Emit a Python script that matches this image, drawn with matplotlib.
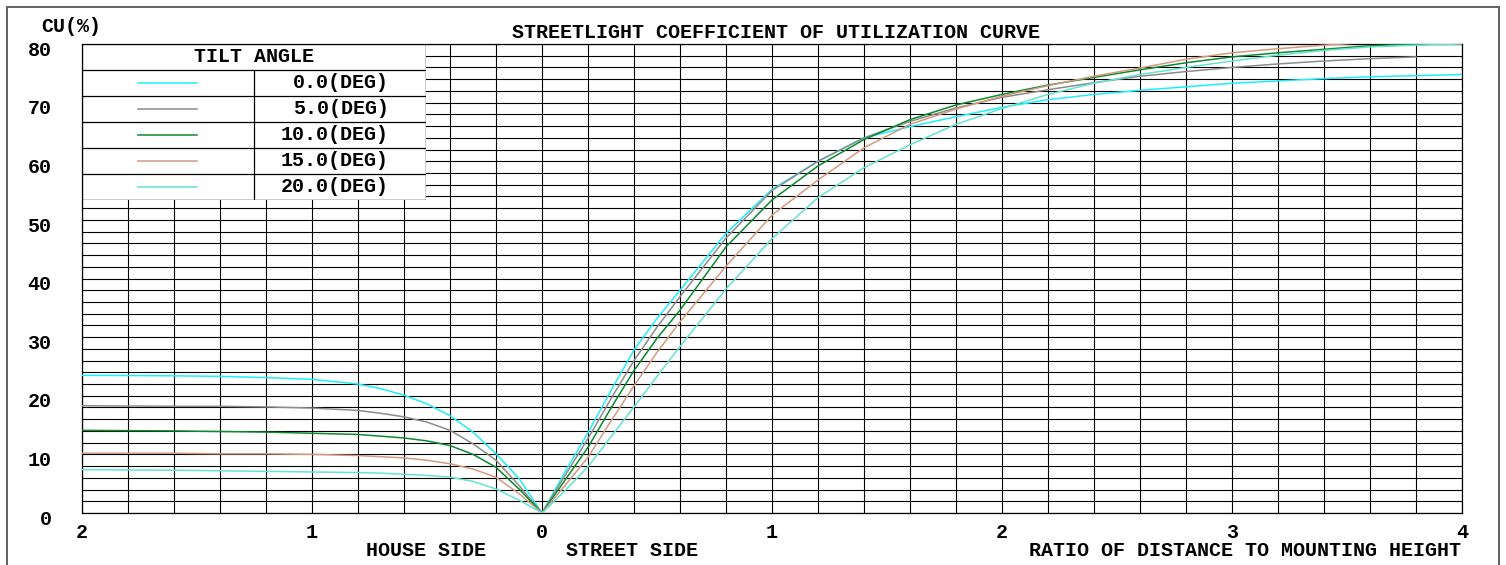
import numpy as np
import matplotlib
matplotlib.use('Agg')
import matplotlib.pyplot as plt
from matplotlib.patches import Rectangle
from matplotlib.transforms import ScaledTranslation

plt.rcParams['font.family'] = ['Liberation Mono', 'DejaVu Sans Mono']
plt.rcParams['font.weight'] = 'bold'
FS = 14.4

W, H = 1506, 565

# tilt angles and line colours
tilt_angles = [0.0, 5.0, 10.0, 15.0, 20.0]
colors = ['#1eeefc', '#8c8c8c', '#0b8a2e', '#d49a80', '#66e2d2']

# house side (distance ratio, plotted to the left of 0)
house_x = [0, 0.1, 0.2, 0.3, 0.4, 0.5, 0.6, 0.7, 0.8, 1.0, 1.2, 1.4, 1.6, 2.0]
house_0 = [0, 5.9, 10.1, 13.8, 16.6, 18.6, 20.1, 21.2, 22.0, 22.8, 23.1, 23.3, 23.4, 23.5]
house_5 = [0, 4.7, 9.0, 11.8, 14.1, 15.5, 16.4, 17.0, 17.5, 17.9, 18.1, 18.2, 18.2, 18.3]
house_10 = [0, 4.1, 7.8, 10.0, 11.5, 12.3, 12.8, 13.1, 13.4, 13.6, 13.8, 13.9, 14.0, 14.1]
house_15 = [0, 3.3, 6.1, 7.5, 8.4, 9.0, 9.4, 9.6, 9.8, 10.0, 10.1, 10.1, 10.2, 10.2]
house_20 = [0, 2.2, 4.1, 5.4, 6.1, 6.4, 6.6, 6.8, 6.9, 7.0, 7.1, 7.2, 7.3, 7.4]

# street side
street_x = [0, 0.1, 0.2, 0.3, 0.4, 0.5, 0.6, 0.8, 1.0, 1.2, 1.4, 1.6, 1.8, 2.0,
            2.2, 2.4, 2.6, 2.8, 3.0, 3.2, 3.4, 3.6, 3.8, 4.0]
street_0 = [0, 7.0, 13.7, 20.9, 27.8, 33.2, 38.0, 47.7, 55.2, 60.0, 64.0, 65.9, 67.6, 69.2,
            70.5, 71.4, 72.1, 72.7, 73.3, 73.7, 74.1, 74.4, 74.6, 74.8]
street_5 = [0, 6.4, 12.7, 19.5, 26.0, 31.7, 36.9, 46.9, 55.0, 60.0, 64.0, 66.8, 69.1, 70.9,
            72.2, 73.4, 74.5, 75.3, 76.0, 76.6, 77.1, 77.5, 77.8, np.nan]
street_10 = [0, 5.6, 11.2, 17.9, 24.3, 29.8, 34.6, 45.4, 53.4, 59.2, 63.7, 67.1, 69.6, 71.4,
             73.0, 74.3, 75.6, 76.8, 77.8, 78.5, 79.1, 79.7, 80.0, 80.2]
street_15 = [0, 4.7, 9.5, 15.7, 21.7, 27.4, 32.6, 42.1, 50.8, 56.8, 62.3, 66.3, 68.9, 71.1,
             72.9, 74.5, 75.9, 77.4, 78.5, 79.2, 79.8, 80.3, 80.6, 80.8]
street_20 = [0, 3.8, 7.9, 13.0, 18.1, 23.3, 28.4, 38.2, 46.8, 53.8, 58.9, 62.8, 66.3, 69.0,
             71.4, 73.3, 74.8, 76.0, 77.1, 78.1, 78.9, 79.5, 79.8, 80.0]

house = [house_0, house_5, house_10, house_15, house_20]
street = [street_0, street_5, street_10, street_15, street_20]

x_ticks = [-2, -1, 0, 1, 2, 3, 4]
x_ticklabels = ['2', '1', '0', '1', '2', '3', '4']
y_ticks = [0, 10, 20, 30, 40, 50, 60, 70, 80]

fig = plt.figure(figsize=(W / 100, H / 100), dpi=100)
ax = fig.add_axes([82 / W, 52 / H, 1380 / W, 469 / H])

# curves
for hs, st, c in zip(house, street, colors):
    ax.plot(-np.array(house_x), hs, color=c, lw=1.1, zorder=3)
    ax.plot(street_x, st, color=c, lw=1.1, zorder=3)

ax.set_xlim(-2, 4)
ax.set_ylim(0, 80)
ax.set_xticks(x_ticks)
ax.set_xticklabels(x_ticklabels, fontsize=FS, fontweight='bold')
ax.set_xticks(np.arange(-2, 4.01, 0.2), minor=True)
ax.set_yticks(y_ticks)
ax.set_yticklabels([str(v) for v in y_ticks], fontsize=FS, fontweight='bold')
ax.set_yticks(np.arange(0, 80.1, 2), minor=True)
ax.tick_params(which='both', length=0)
ax.tick_params(axis='x', pad=7)
ax.tick_params(axis='y', pad=22)
ax.grid(which='both', color='black', lw=0.8, zorder=1)
ax.set_axisbelow(True)
for s in ax.spines.values():
    s.set_color('black')
    s.set_linewidth(0.9)

for lbl in ax.get_yticklabels():
    lbl.set_transform(lbl.get_transform() + ScaledTranslation(0, -3 / 72, fig.dpi_scale_trans))

# texts
fig.text(776 / W, 1 - 32 / H, 'STREETLIGHT COEFFICIENT OF UTILIZATION CURVE',
         ha='center', va='center', fontsize=FS, fontweight='bold')
fig.text(71 / W, 1 - 27 / H, 'CU(%)', ha='center', va='center', fontsize=FS, fontweight='bold')
fig.text(426 / W, 1 - 550 / H, 'HOUSE SIDE', ha='center', va='center', fontsize=FS, fontweight='bold')
fig.text(566 / W, 1 - 550 / H, 'STREET SIDE', ha='left', va='center', fontsize=FS, fontweight='bold')
fig.text(1461 / W, 1 - 550 / H, 'RATIO OF DISTANCE TO MOUNTING HEIGHT',
         ha='right', va='center', fontsize=FS, fontweight='bold')

# outer frame
fig.add_artist(Rectangle((7 / W, -0.2), 1492 / W, (H - 7) / H + 0.2, transform=fig.transFigure,
                         fill=False, edgecolor='#555555', lw=1.3))

# legend table
lg = fig.add_axes([82 / W, 1 - 200 / H, 344 / W, 156 / H])
lg.set_xlim(0, 344)
lg.set_ylim(156, 0)
lg.axis('off')
lg.add_patch(Rectangle((0, 0), 344, 156, facecolor='white', edgecolor='black', lw=1.0))
lg.text(172, 13, 'TILT ANGLE', ha='center', va='center', fontsize=FS, fontweight='bold')
lg.plot([172, 172], [26, 156], color='black', lw=0.9)
for i, (a, c) in enumerate(zip(tilt_angles, colors)):
    top = 26 + 26 * i
    lg.plot([0, 344], [top, top], color='black', lw=0.9)
    lg.plot([56, 115], [top + 13, top + 13], color=c, lw=1.1)
    lg.text(307, top + 13, f'{a:.1f}(DEG)', ha='right', va='center', fontsize=FS, fontweight='bold')

fig.savefig('out.png', dpi=100)
